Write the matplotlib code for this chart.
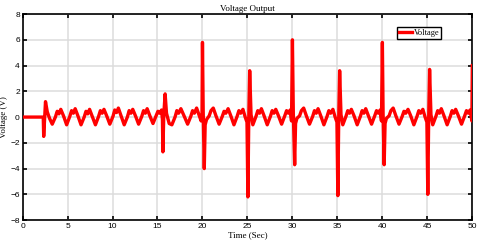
import matplotlib
matplotlib.use('Agg')
import matplotlib.pyplot as plt

# ── Data ──────────────────────────────────────────────────────────────────
time_s = [
    0.0, 2.3, 2.35, 2.45, 2.55, 2.75, 3.0, 3.3,
    3.65, 3.85, 4.05, 4.25, 4.55, 4.9,
    5.25, 5.45, 5.65, 5.85, 6.15, 6.5,
    6.85, 7.05, 7.25, 7.45, 7.75, 8.1,
    8.45, 8.65, 8.85, 9.05, 9.35, 9.7,
    10.05, 10.25, 10.45, 10.65, 10.95, 11.3,
    11.65, 11.85, 12.05, 12.25, 12.55, 12.9,
    13.25, 13.45, 13.65, 13.85, 14.15, 14.5,
    14.85, 15.05, 15.25, 15.45, 15.55, 15.6, 15.7, 15.85, 16.0, 16.3,
    16.6, 16.95, 17.15, 17.35, 17.6, 17.95, 18.35,
    18.7, 18.9, 19.1, 19.35, 19.6, 19.85, 19.95, 20.0, 20.08, 20.2, 20.3, 20.45,
    20.75, 20.95, 21.2, 21.5, 21.85,
    22.2, 22.4, 22.6, 22.85, 23.15, 23.5,
    23.85, 24.05, 24.25, 24.5, 24.75, 24.95, 25.05, 25.15, 25.25, 25.4, 25.6,
    25.95, 26.15, 26.35, 26.55, 26.85, 27.2,
    27.55, 27.75, 27.95, 28.15, 28.45, 28.8,
    29.15, 29.35, 29.55, 29.75, 29.9, 30.0, 30.1, 30.25, 30.35, 30.5,
    30.8, 31.0, 31.25, 31.55, 31.9,
    32.25, 32.45, 32.65, 32.85, 33.15, 33.5,
    33.85, 34.05, 34.25, 34.5, 34.75, 34.95, 35.05, 35.15, 35.25, 35.4, 35.6,
    35.95, 36.15, 36.35, 36.55, 36.85, 37.2,
    37.55, 37.75, 37.95, 38.15, 38.45, 38.8,
    39.15, 39.35, 39.55, 39.75, 39.9, 40.0, 40.08, 40.2, 40.3, 40.45,
    40.75, 40.95, 41.2, 41.5, 41.85,
    42.2, 42.4, 42.6, 42.85, 43.15, 43.5,
    43.85, 44.05, 44.25, 44.5, 44.75, 44.95, 45.05, 45.15, 45.25, 45.4, 45.6,
    45.95, 46.15, 46.35, 46.55, 46.85, 47.2,
    47.55, 47.75, 47.95, 48.15, 48.45, 48.8,
    49.15, 49.35, 49.55, 49.75, 49.95, 50.0,
]
voltage_v = [
    0.0, 0.0, -1.5, -0.2, 1.2, 0.4, -0.1, -0.55,
    0.0, 0.45, 0.25, 0.6, 0.1, -0.6,
    0.05, 0.5, 0.3, 0.65, 0.1, -0.6,
    0.0, 0.45, 0.25, 0.6, 0.05, -0.6,
    0.05, 0.5, 0.3, 0.6, 0.1, -0.55,
    0.05, 0.55, 0.35, 0.7, 0.1, -0.6,
    0.0, 0.5, 0.3, 0.6, 0.1, -0.55,
    0.05, 0.5, 0.3, 0.65, 0.1, -0.5,
    0.1, 0.45, 0.3, 0.55, -0.2, -2.7, 0.2, 1.8, 0.3, -0.5,
    -0.6, 0.0, 0.5, 0.3, 0.65, 0.1, -0.55,
    0.05, 0.5, 0.3, 0.7, 0.2, -0.3, 0.2, 5.8, 0.5, -4.0, -0.6, -0.2,
    0.1, 0.5, 0.7, 0.1, -0.55,
    0.05, 0.45, 0.3, 0.65, 0.1, -0.6,
    0.05, 0.5, 0.3, 0.6, 0.0, -0.4, -6.2, 0.0, 3.6, 0.2, -0.6,
    0.05, 0.5, 0.3, 0.65, 0.1, -0.6,
    0.05, 0.5, 0.3, 0.6, 0.1, -0.55,
    0.1, 0.5, 0.3, 0.55, -0.3, 6.0, 0.3, -3.7, -0.5, -0.1,
    0.1, 0.5, 0.7, 0.1, -0.55,
    0.05, 0.5, 0.3, 0.65, 0.1, -0.6,
    0.05, 0.5, 0.3, 0.6, 0.0, -0.4, -6.1, 0.0, 3.6, 0.2, -0.6,
    0.05, 0.5, 0.3, 0.6, 0.1, -0.6,
    0.05, 0.5, 0.3, 0.65, 0.1, -0.55,
    0.1, 0.5, 0.3, 0.55, -0.3, 5.8, 0.3, -3.7, -0.5, -0.1,
    0.1, 0.5, 0.7, 0.1, -0.55,
    0.05, 0.45, 0.3, 0.6, 0.1, -0.6,
    0.05, 0.5, 0.3, 0.6, 0.0, -0.4, -6.0, 0.0, 3.7, 0.2, -0.6,
    0.05, 0.5, 0.3, 0.65, 0.1, -0.6,
    0.05, 0.5, 0.3, 0.6, 0.1, -0.55,
    0.1, 0.5, 0.3, 0.55, -0.3, 4.0,
]

x_ticks = [0, 5, 10, 15, 20, 25, 30, 35, 40, 45, 50]
y_ticks = [-8, -6, -4, -2, 0, 2, 4, 6, 8]

SERIF = 'Liberation Serif'
SANS = 'Liberation Sans'

# ── Figure ────────────────────────────────────────────────────────────────
fig = plt.figure(figsize=(4.8, 2.47), dpi=100, facecolor='white')
ax = fig.add_axes([0.047, 0.109, 0.937, 0.834])

ax.plot(time_s, voltage_v, color='#FF0000', linewidth=2.4, label='Voltage',
        solid_joinstyle='round', zorder=3)

ax.set_xlim(0, 50)
ax.set_ylim(-8, 8)
ax.set_xticks(x_ticks)
ax.set_yticks(y_ticks)
ax.grid(True, color='#DCDCDC', linewidth=1.1, zorder=0)
ax.set_axisbelow(True)

ax.tick_params(direction='in', length=3, width=1.2, top=True, right=True,
               labelsize=6, pad=2, colors='black')
for lbl in ax.get_xticklabels() + ax.get_yticklabels():
    lbl.set_family(SANS)
for spine in ax.spines.values():
    spine.set_linewidth(1.2)
    spine.set_color('black')

ax.set_title('Voltage Output', fontsize=6.5, family=SERIF, pad=2)
ax.set_xlabel('Time (Sec)', fontsize=6.5, family=SERIF, labelpad=1)
ax.set_ylabel('Voltage (V)', fontsize=6.5, family=SERIF, labelpad=2)

leg = ax.legend(loc='upper right', bbox_to_anchor=(0.93, 0.935),
                prop={'family': SERIF, 'size': 6}, frameon=True, fancybox=False,
                framealpha=1, edgecolor='black', handlelength=1.6,
                handletextpad=0.2, borderpad=0.2, borderaxespad=0)
leg.get_frame().set_linewidth(1.0)

plt.savefig('out.png', dpi=100, facecolor='white')
plt.close()
